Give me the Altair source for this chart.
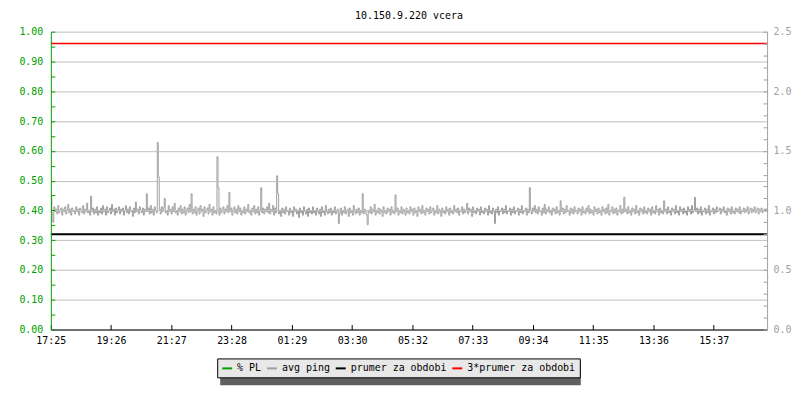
import altair as alt
import pandas as pd

# ---------------- data ----------------
title_text = "10.150.9.220 vcera"
series_names = ["% PL", "avg ping", "prumer za obdobi", "3*prumer za obdobi"]
series_colors = ["#00a000", "#a0a0a0", "#000000", "#ff0000"]

tick_labels = ["17:25", "19:26", "21:27", "23:28", "01:29", "03:30",
               "05:32", "07:33", "09:34", "11:35", "13:36", "15:37"]
tick_step_min = 121.15
sample_step_min = 2
span_min = 1440

left_max = 1.0
right_max = 2.5

# avg ping (right axis units), one value every 2 minutes
ping = [
    1.12, 0.98, 0.90, 1.03, 0.99, 1.01, 0.97, 1.04, 0.98, 1.00, 1.02, 0.96, 1.01, 0.99, 1.03, 0.97, 1.00, 1.05, 0.98, 1.01, 0.96, 1.02, 0.99, 1.00,
    0.97, 1.03, 0.99, 1.01, 0.96, 1.02, 1.00, 0.98, 1.04, 0.97, 1.01, 0.99, 1.06, 0.98, 1.00, 0.96, 1.12, 0.99, 1.02, 0.97, 1.01, 0.98, 1.03, 0.96,
    1.00, 0.98, 1.02, 0.97, 1.04, 0.99, 1.01, 0.96, 1.03, 0.98, 1.00, 1.02, 0.97, 1.05, 0.99, 1.01, 0.96, 1.02, 0.98, 1.00, 1.03, 0.97, 1.01, 0.99,
    1.02, 0.96, 1.00, 1.04, 0.98, 1.01, 0.97, 1.03, 0.99, 1.00, 0.95, 1.02, 0.98, 1.07, 0.99, 1.01, 0.97, 1.03, 1.00, 0.98, 1.02, 0.96, 1.01, 0.99,
    1.14, 0.99, 1.02, 0.97, 1.04, 0.98, 1.01, 0.96, 1.03, 1.00, 0.98, 1.57, 1.28, 1.01, 0.97, 1.03, 0.99, 1.02, 1.10, 0.98, 1.00, 0.96, 1.04, 0.99,
    1.01, 0.97, 1.03, 0.99, 1.06, 0.98, 1.00, 0.96, 1.02, 0.99, 1.04, 0.97, 1.01, 0.98, 1.03, 0.96, 1.00, 1.02, 0.98, 1.05, 0.99, 1.14, 0.97, 1.01,
    0.98, 1.03, 0.96, 1.00, 1.02, 0.97, 1.04, 0.99, 1.01, 0.95, 1.03, 0.98, 1.00, 1.02, 0.97, 1.05, 0.99, 1.01, 0.96, 1.03, 0.98, 1.00, 0.97, 1.45,
    1.19, 0.96, 1.02, 0.98, 1.00, 1.03, 0.97, 1.01, 0.99, 1.04, 0.98, 1.15, 0.99, 1.02, 0.96, 1.00, 1.03, 0.98, 1.01, 0.97, 1.04, 0.99, 1.02, 0.96,
    1.00, 0.98, 1.03, 0.97, 1.01, 0.99, 1.05, 0.98, 1.00, 0.96, 1.02, 0.99, 1.04, 0.97, 1.01, 0.98, 1.03, 0.96, 1.00, 1.19, 0.98, 1.02, 0.97, 1.01,
    0.99, 1.03, 0.98, 1.06, 0.97, 1.01, 0.99, 1.04, 0.96, 1.02, 0.98, 1.29, 1.14, 0.97, 1.00, 0.95, 1.02, 0.98, 1.01, 0.97, 1.03, 0.99, 1.00, 0.96,
    1.02, 0.98, 1.00, 0.95, 1.03, 0.99, 1.01, 0.97, 1.00, 0.94, 1.02, 0.98, 1.00, 0.96, 1.03, 0.99, 0.97, 1.01, 0.95, 1.02, 0.98, 1.00, 0.97, 1.03,
    0.98, 1.00, 0.96, 1.02, 0.99, 0.97, 1.01, 0.95, 1.03, 0.98, 1.00, 0.96, 1.04, 0.99, 0.97, 1.01, 0.98, 1.02, 0.96, 1.00, 0.98, 1.03, 0.97, 0.99,
    1.01, 0.89, 0.98, 1.02, 0.96, 1.00, 0.98, 1.03, 0.97, 0.99, 1.01, 0.95, 1.02, 0.98, 1.00, 0.96, 1.04, 0.99, 0.97, 1.01, 0.98, 1.02, 0.96, 1.00,
    0.98, 1.14, 0.97, 1.01, 0.99, 0.96, 0.88, 1.00, 0.98, 1.03, 0.97, 1.01, 0.99, 1.05, 0.96, 1.00, 0.98, 1.02, 0.97, 1.01, 0.99, 0.95, 1.03, 0.98,
    1.00, 0.97, 1.02, 0.99, 1.01, 0.96, 1.03, 0.98, 1.00, 0.97, 1.13, 0.99, 1.02, 0.96, 1.00, 0.98, 1.03, 0.97, 1.01, 0.99, 0.96, 1.02, 0.98, 1.00,
    0.97, 1.03, 0.99, 1.01, 0.96, 1.02, 0.98, 1.00, 0.95, 1.03, 0.99, 1.01, 0.97, 1.04, 0.98, 1.00, 0.96, 1.02, 0.99, 1.01, 0.97, 1.03, 0.98, 1.00,
    1.02, 0.96, 1.00, 0.98, 1.04, 0.97, 1.01, 0.99, 0.95, 1.02, 0.98, 1.00, 0.97, 1.03, 0.99, 1.01, 0.96, 1.02, 0.98, 1.00, 0.97, 1.04, 0.99, 1.01,
    0.98, 1.02, 0.96, 1.00, 0.99, 1.03, 0.97, 1.01, 0.98, 1.00, 1.06, 0.97, 1.02, 0.99, 1.01, 0.95, 1.03, 0.98, 1.00, 0.97, 1.02, 0.99, 1.01, 0.96,
    1.03, 0.98, 1.00, 0.97, 1.02, 0.99, 1.01, 0.96, 1.04, 0.98, 1.00, 0.97, 1.02, 0.99, 0.89, 1.01, 0.98, 1.03, 0.96, 1.00, 0.99, 1.02, 0.97, 1.01,
    0.98, 1.04, 0.97, 1.00, 0.99, 1.02, 0.96, 1.01, 0.98, 1.03, 0.97, 1.00, 0.99, 1.02, 0.96, 1.01, 0.98, 1.04, 0.97, 1.00, 0.99, 1.02, 0.96, 1.01,
    0.98, 1.19, 1.00, 0.97, 1.02, 0.99, 1.04, 0.98, 1.01, 0.97, 1.03, 0.99, 1.00, 0.96, 1.02, 0.98, 1.05, 0.97, 1.01, 0.99, 1.03, 0.98, 1.00, 0.96,
    1.02, 0.99, 1.01, 0.97, 1.03, 0.98, 1.00, 0.96, 1.08, 0.99, 1.02, 0.97, 1.01, 0.98, 1.04, 0.99, 1.00, 0.96, 1.02, 0.98, 1.01, 0.97, 1.03, 0.99,
    1.00, 0.97, 1.02, 0.99, 1.01, 0.96, 1.03, 0.98, 1.00, 0.97, 1.02, 0.99, 1.04, 0.97, 1.01, 0.98, 1.00, 0.96, 1.03, 0.99, 1.01, 0.97, 1.02, 0.98,
    1.00, 0.96, 1.03, 0.99, 1.01, 0.97, 1.02, 0.98, 1.05, 0.96, 1.00, 0.99, 1.03, 0.97, 1.01, 0.98, 1.02, 0.96, 1.00, 0.99, 1.04, 0.97, 1.01, 0.98,
    1.11, 0.99, 1.01, 0.97, 1.03, 0.98, 1.00, 0.96, 1.02, 0.99, 1.01, 0.97, 1.04, 0.98, 1.00, 0.96, 1.02, 0.99, 1.01, 0.97, 1.03, 0.98, 1.00, 0.97,
    1.02, 0.99, 1.01, 0.96, 1.03, 0.98, 1.00, 0.97, 1.04, 0.99, 1.01, 0.96, 1.02, 0.98, 1.00, 0.97, 1.08, 0.99, 1.01, 0.97, 1.03, 0.98, 1.00, 0.96,
    1.02, 0.99, 1.01, 0.97, 1.04, 0.98, 1.00, 0.96, 1.03, 0.99, 1.01, 0.97, 1.02, 0.98, 1.00, 0.96, 1.03, 0.99, 1.01, 0.97, 1.04, 0.98, 1.00, 1.11,
    0.99, 1.02, 0.97, 1.01, 0.98, 1.03, 0.96, 1.00, 0.99, 1.02, 0.97, 1.01, 0.98, 1.04, 0.96, 1.00, 0.99, 1.02, 0.97, 1.01, 0.98, 1.03, 0.99, 1.00,
    1.02, 0.97, 1.01, 0.99, 1.03, 0.98, 1.00, 0.96, 1.02, 0.99, 1.01, 0.97, 1.03, 0.98, 1.00, 0.97, 1.02, 0.99, 1.01, 0.98, 1.03, 0.97, 1.00, 0.99,
    1.02, 0.98, 1.01, 0.99, 1.03, 0.97, 1.00, 1.02, 0.98, 1.01, 0.99, 1.03, 0.98, 1.00, 1.02, 0.97, 1.01, 0.99, 1.02, 0.98, 1.00, 1.01, 0.99, 1.02,
]
prumer = 0.32        # left-axis units
prumer_3x = 0.96     # left-axis units

# ---------------- tables ----------------
ping_df = pd.DataFrame({
    "t": [i * sample_step_min for i in range(len(ping))],
    "v": ping,
    "series": ["avg ping"] * len(ping),
})
avg_df = pd.DataFrame({"v": [prumer], "series": ["prumer za obdobi"]})
avg3_df = pd.DataFrame({"v": [prumer_3x], "series": ["3*prumer za obdobi"]})

mono = "DejaVu Sans Mono"
label_array = "[" + ",".join("'" + s + "'" for s in tick_labels) + "]"

left_values = [round(i * 0.05, 2) for i in range(21)]
right_values = [round(i * 0.1, 1) for i in range(26)]
left_major = "abs(datum.value*10 - round(datum.value*10)) < 0.001"
right_major = "abs(datum.value*2 - round(datum.value*2)) < 0.001"

color = alt.Color(
    "series:N",
    scale=alt.Scale(domain=series_names, range=series_colors),
    legend=alt.Legend(
        title=None, orient="none", legendX=167, legendY=328,
        direction="horizontal", columns=4, symbolType="stroke",
        symbolSize=100, symbolStrokeWidth=2, labelOffset=4,
        columnPadding=1, padding=4, labelFont=mono, labelFontSize=10,
        fillColor="#e8e8e8", strokeColor="#000000", labelColor="#000000",
        zindex=2,
    ),
)

# drop shadow of the legend box (a flat dark-grey gradient legend)
shadow_fill = alt.Fill(
    "v:Q",
    scale=alt.Scale(domain=[0, 1], range=["#606060", "#606060"]),
    legend=alt.Legend(
        title=None, orient="none", legendX=170, legendY=331,
        direction="horizontal", gradientLength=362, gradientThickness=24,
        gradientStrokeWidth=0, labelExpr="''", padding=0, zindex=1,
    ),
)

x_enc = alt.X(
    "t:Q",
    scale=alt.Scale(domain=[0, span_min], nice=False, zero=False),
    axis=alt.Axis(
        values=[i * tick_step_min for i in range(len(tick_labels))],
        labelExpr=label_array + "[round(datum.value/" + str(tick_step_min) + ")]",
        title=None, grid=False, domainColor="#000000", tickColor="#000000",
        labelColor="#000000", labelFont=mono, labelFontSize=10,
        tickSize={"expr": "-5"}, labelPadding=11, labelFlush=False,
        labelOverlap=False, zindex=1,
    ),
)

left_axis = alt.Axis(
    values=left_values,
    labelExpr="(" + left_major + ") ? format(datum.value, '.2f') : ''",
    title=None, grid=True, gridColor="#c0c0c0",
    gridOpacity=alt.condition(left_major, alt.value(1), alt.value(0)),
    domainColor="#00a000", tickColor="#00a000",
    labelColor="#00a000", labelFont=mono, labelFontSize=10,
    tickSize={"expr": "-4"}, labelPadding=12, labelOverlap=False, zindex=1,
)

right_axis = alt.Axis(
    orient="right", values=right_values,
    labelExpr="(" + right_major + ") ? format(datum.value, '.1f') : ''",
    title=None, grid=False,
    domainColor="#a0a0a0", tickColor="#a0a0a0", labelColor="#a0a0a0",
    labelFont=mono, labelFontSize=10, tickSize={"expr": "-4"},
    labelPadding=10, labelOverlap=False, zindex=1,
)

left_scale = alt.Scale(domain=[0, left_max], nice=False)

avg_line = alt.Chart(avg_df).mark_rule(strokeWidth=2).encode(
    y=alt.Y("v:Q", scale=left_scale, axis=left_axis),
    color=color,
)
avg3_line = alt.Chart(avg3_df).mark_rule(strokeWidth=1.5).encode(
    y=alt.Y("v:Q", scale=left_scale, axis=left_axis),
    color=color,
)
shadow_layer = alt.Chart(avg_df).mark_point(opacity=0).encode(
    y=alt.Y("v:Q", scale=left_scale, axis=left_axis),
    fill=shadow_fill,
)
left_layer = alt.layer(avg_line, avg3_line, shadow_layer)

ping_line = alt.Chart(ping_df).mark_line(strokeWidth=1, interpolate="step-after").encode(
    x=x_enc,
    y=alt.Y("v:Q", scale=alt.Scale(domain=[0, right_max], nice=False), axis=right_axis),
    color=color,
)

chart = alt.layer(left_layer, ping_line).resolve_scale(y="independent").properties(
    width=719, height=299,
    autosize=alt.AutoSizeParams(type="none"),
    padding={"left": 43, "top": 23, "right": 25, "bottom": 70},
    title=alt.TitleParams(title_text, font=mono, fontSize=10, fontWeight="normal",
                          color="#000000", anchor="middle", offset=6),
    background="#ffffff",
).configure_view(strokeWidth=0)

chart.save("out.html", embed_options={"renderer": "svg", "actions": False})
